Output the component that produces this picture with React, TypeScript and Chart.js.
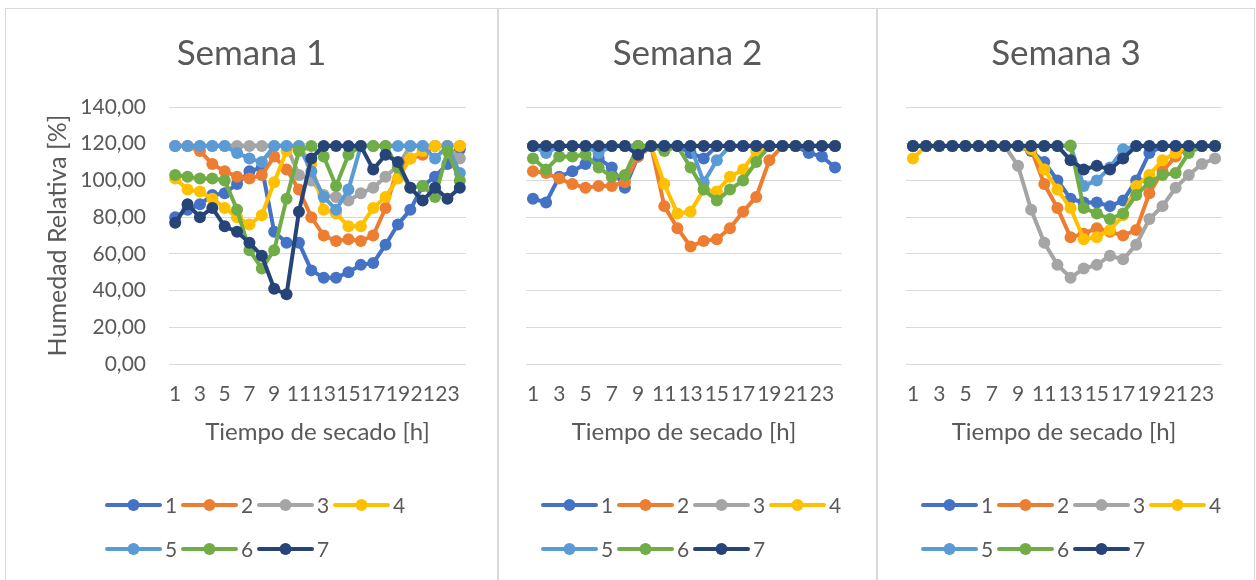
import React, { useEffect, useRef } from 'react';
import { Chart, registerables } from 'chart.js';

Chart.register(...registerables);

// ---------- data ----------
const horas = ['1', '2', '3', '4', '5', '6', '7', '8', '9', '10', '11', '12', '13', '14', '15', '16', '17', '18', '19', '20', '21', '22', '23', '24'];
const serieNombres = ['1', '2', '3', '4', '5', '6', '7'];
const colores = ['#4472C4', '#ED7D31', '#A5A5A5', '#FFC000', '#5B9BD5', '#70AD47', '#264478'];
const titulos = ['Semana 1', 'Semana 2', 'Semana 3'];
const yMin = 0;
const yMax = 140;
const yPaso = 20;

// Semana 1
const s1_1 = [80, 84, 87, 92, 93, 98, 105, 107, 72, 66, 66, 51, 47, 47, 50, 54, 55, 65, 76, 84, 97, 102, 109, 117];
const s1_2 = [118.7, 118.7, 116, 109, 105, 102, 101, 103, 113, 106, 95, 80, 70, 67, 68, 67, 70, 85, 107, 112, 114, 118.7, 118.7, 118.7];
const s1_3 = [118.7, 118.7, 118.7, 118.7, 118.7, 118.7, 118.7, 118.7, 118.7, 118.7, 103, 100, 92, 91, 89, 93, 96, 102, 108, 118.7, 118.7, 118.7, 118.7, 112];
const s1_4 = [101, 95, 94, 90, 85, 80, 76, 81, 99, 116, 118.7, 109, 84, 82, 75, 75, 85, 91, 101, 112, 116, 118.7, 118.7, 118.7];
const s1_5 = [118.7, 118.7, 118.7, 118.7, 118.7, 115, 112, 110, 118.7, 118.7, 118.7, 105, 91, 84, 95, 118.7, 118.7, 118.7, 118.7, 118.7, 118.7, 112, 118.7, 104];
const s1_6 = [103, 102, 101, 101, 100, 84, 62, 52, 62, 90, 116, 118.7, 113, 97, 114, 118.7, 118.7, 118.7, 107, 96, 97, 91, 116, 100];
const s1_7 = [77, 87, 80, 85, 75, 72, 66, 59, 41, 38, 83, 112, 118.7, 118.7, 118.7, 118.7, 106, 114, 110, 96, 89, 96, 90, 96];

// Semana 2
const s2_1 = [90, 88, 102, 105, 109, 112, 107, 96, 113, 118.7, 118.7, 118.7, 115, 112, 118.7, 118.7, 118.7, 118.7, 118.7, 118.7, 118.7, 115, 113, 107];
const s2_2 = [105, 104, 101, 98, 96, 97, 97, 99, 113, 118.7, 86, 74, 64, 67, 68, 74, 83, 91, 111, 118.7, 118.7, 118.7, 118.7, 118.7];
const s2_3 = [118.7, 118.7, 118.7, 118.7, 118.7, 118.7, 118.7, 118.7, 118.7, 118.7, 118.7, 118.7, 118.7, 118.7, 118.7, 118.7, 118.7, 118.7, 118.7, 118.7, 118.7, 118.7, 118.7, 118.7];
const s2_4 = [118.7, 118.7, 118.7, 118.7, 118.7, 118.7, 118.7, 118.7, 118.7, 118.7, 98, 82, 83, 95, 94, 102, 106, 116, 118.7, 118.7, 118.7, 118.7, 118.7, 118.7];
const s2_5 = [118.7, 115, 118.7, 118.7, 118.7, 115, 118.7, 118.7, 118.7, 118.7, 118.7, 118.7, 118.7, 99, 111, 118.7, 118.7, 118.7, 118.7, 118.7, 118.7, 118.7, 118.7, 118.7];
const s2_6 = [112, 106, 113, 113, 114, 107, 102, 103, 118.7, 118.7, 116, 118.7, 107, 95, 89, 95, 100, 110, 118.7, 118.7, 118.7, 118.7, 118.7, 118.7];
const s2_7 = [118.7, 118.7, 118.7, 118.7, 118.7, 118.7, 118.7, 118.7, 114, 118.7, 118.7, 118.7, 118.7, 118.7, 118.7, 118.7, 118.7, 118.7, 118.7, 118.7, 118.7, 118.7, 118.7, 118.7];

// Semana 3
const s3_1 = [118.7, 118.7, 118.7, 118.7, 118.7, 118.7, 118.7, 118.7, 118.7, 116, 110, 100, 90, 88, 88, 86, 89, 100, 115, 118.7, 118.7, 118.7, 118.7, 118.7];
const s3_2 = [118.7, 118.7, 118.7, 118.7, 118.7, 118.7, 118.7, 118.7, 118.7, 117, 98, 85, 69, 71, 74, 72, 70, 73, 93, 105, 113, 118.7, 118.7, 118.7];
const s3_3 = [118.7, 118.7, 118.7, 118.7, 118.7, 118.7, 118.7, 118.7, 108, 84, 66, 54, 47, 52, 54, 59, 57, 65, 79, 86, 96, 103, 109, 112];
const s3_4 = [112, 118.7, 118.7, 118.7, 118.7, 118.7, 118.7, 118.7, 118.7, 117, 106, 95, 85, 68, 69, 73, 81, 97, 103, 111, 115, 118.7, 118.7, 118.7];
const s3_5 = [118.7, 118.7, 118.7, 118.7, 118.7, 118.7, 118.7, 118.7, 118.7, 118.7, 118.7, 118.7, 118.7, 97, 100, 107, 117, 118.7, 118.7, 118.7, 118.7, 118.7, 118.7, 118.7];
const s3_6 = [118.7, 118.7, 118.7, 118.7, 118.7, 118.7, 118.7, 118.7, 118.7, 118.7, 118.7, 118.7, 119, 85, 82, 79, 82, 92, 99, 103, 104, 115, 118.7, 118.7];
const s3_7 = [118.7, 118.7, 118.7, 118.7, 118.7, 118.7, 118.7, 118.7, 118.7, 118.7, 118.7, 118.7, 111, 106, 108, 106, 112, 118.7, 118.7, 118.7, 118.7, 118.7, 118.7, 118.7];

const semana1 = [s1_1, s1_2, s1_3, s1_4, s1_5, s1_6, s1_7];
const semana2 = [s2_1, s2_2, s2_3, s2_4, s2_5, s2_6, s2_7];
const semana3 = [s3_1, s3_2, s3_3, s3_4, s3_5, s3_6, s3_7];

// ---------- style ----------
const FONT = 'Lato, "Open Sans", sans-serif';
const TEXT = '#595959';
const GRID = '#d9d9d9';
const CANVAS_H = 571;

const excelLegend = {
  id: 'excelLegend',
  afterDraw(chart: any, _args: any, opts: any) {
    const ctx = chart.ctx;
    const { x0, y0, rowGap, pitch, perRow, lineLen } = opts;
    chart.data.datasets.forEach((ds: any, i: number) => {
      const row = Math.floor(i / perRow);
      const col = i % perRow;
      const x = x0 + col * pitch;
      const y = y0 + row * rowGap;
      ctx.save();
      ctx.strokeStyle = ds.borderColor;
      ctx.lineWidth = 4;
      ctx.lineCap = 'round';
      ctx.beginPath();
      ctx.moveTo(x + 2, y);
      ctx.lineTo(x + lineLen - 2, y);
      ctx.stroke();
      ctx.fillStyle = ds.borderColor;
      ctx.beginPath();
      ctx.arc(x + lineLen / 2, y, 6, 0, Math.PI * 2);
      ctx.fill();
      ctx.fillStyle = TEXT;
      ctx.font = `21px ${FONT}`;
      ctx.textBaseline = 'middle';
      ctx.textAlign = 'left';
      ctx.fillText(ds.label, x + lineLen + 3, y + 1);
      ctx.restore();
    });
  },
};

type PanelProps = {
  titulo: string;
  datos: number[][];
  showY: boolean;
  width: number;
  areaLeft: number;
  areaRight: number;
  legendX: number;
  left: number;
};

const AREA_TOP = 98;
const AREA_BOTTOM = 355;
const XAXIS_H = 90;
const TITLE_PAD_TOP = 23.5;
const TITLE_LH = 35 * 1.2;

function Panel({ titulo, datos, showY, width, areaLeft, areaRight, legendX, left }: PanelProps) {
  const ref = useRef<HTMLCanvasElement>(null);
  useEffect(() => {
    if (!ref.current) return;
    const chart = new Chart(ref.current, {
      type: 'line',
      data: {
        labels: horas,
        datasets: datos.map((d, i) => ({
          label: serieNombres[i],
          data: d,
          borderColor: colores[i],
          backgroundColor: colores[i],
          pointBackgroundColor: colores[i],
          pointBorderColor: colores[i],
          borderWidth: 4,
          pointRadius: 6,
          pointBorderWidth: 0,
          tension: 0,
          order: 7 - i,
        })),
      },
      options: {
        animation: false,
        responsive: false,
        events: [],
        layout: {
          padding: { left: 0, right: 0, top: 0, bottom: CANVAS_H - AREA_BOTTOM - XAXIS_H },
        },
        plugins: {
          legend: { display: false },
          tooltip: { enabled: false },
          title: {
            display: true,
            text: titulo,
            color: TEXT,
            font: { family: FONT, size: 35, weight: 'normal', lineHeight: 1.2 },
            padding: { top: TITLE_PAD_TOP, bottom: AREA_TOP - TITLE_PAD_TOP - TITLE_LH },
          },
          excelLegend: { x0: legendX, y0: 496, rowGap: 44, pitch: 76, perRow: 4, lineLen: 57 },
        } as any,
        scales: {
          x: {
            type: 'category',
            offset: true,
            grid: { display: false, drawTicks: false },
            border: { display: false },
            ticks: {
              autoSkip: false,
              maxRotation: 0,
              minRotation: 0,
              padding: 18,
              color: TEXT,
              font: { family: FONT, size: 21 },
              callback: (_v: any, i: number) => (i % 2 === 0 ? horas[i] : ''),
            },
            title: {
              display: true,
              text: 'Tiempo de secado [h]',
              color: TEXT,
              font: { family: FONT, size: 24, lineHeight: 1.2 },
              padding: { top: 0, bottom: 7.6 },
            },
            afterFit: (s: any) => {
              s.height = XAXIS_H;
            },
          },
          y: {
            min: yMin,
            max: yMax,
            grid: { color: GRID, lineWidth: 1, drawTicks: false },
            border: { display: false },
            ticks: {
              display: showY,
              stepSize: yPaso,
              padding: 23,
              color: TEXT,
              font: { family: FONT, size: 21 },
              callback: (v: any) => Number(v).toFixed(2).replace('.', ','),
            },
            title: {
              display: showY,
              text: 'Humedad Relativa [%]',
              color: TEXT,
              font: { family: FONT, size: 25, lineHeight: 1.2 },
              padding: { top: 37, bottom: 0 },
            },
            afterFit: (s: any) => {
              s.width = areaLeft;
            },
          },
          margenDerecho: {
            type: 'linear',
            position: 'right',
            display: true,
            grid: { display: false, drawTicks: false },
            border: { display: false },
            ticks: { display: false },
            afterFit: (s: any) => {
              s.width = width - areaRight;
            },
          },
        },
      },
      plugins: [excelLegend],
    } as any);
    return () => chart.destroy();
  }, []);

  return (
    <div
      style={{
        position: 'absolute',
        left,
        top: 8,
        width: width,
        height: 580,
        border: `1px solid ${GRID}`,
        borderBottom: 'none',
        background: '#fff',
      }}
    >
      <canvas ref={ref} width={width} height={CANVAS_H} style={{ display: 'block', width, height: CANVAS_H }} />
    </div>
  );
}

export default function App() {
  useEffect(() => {
    document.body.style.margin = '0';
  }, []);
  return (
    <div style={{ position: 'relative', width: 1256, height: 580, overflow: 'hidden', background: '#fff' }}>
      <Panel titulo={titulos[0]} datos={semana1} showY={true} width={491} left={5} areaLeft={163} areaRight={460} legendX={99} />
      <Panel titulo={titulos[1]} datos={semana2} showY={false} width={377} left={498} areaLeft={27.4} areaRight={342.6} legendX={42} />
      <Panel titulo={titulos[2]} datos={semana3} showY={false} width={376} left={877} areaLeft={28.4} areaRight={343.6} legendX={43} />
    </div>
  );
}
